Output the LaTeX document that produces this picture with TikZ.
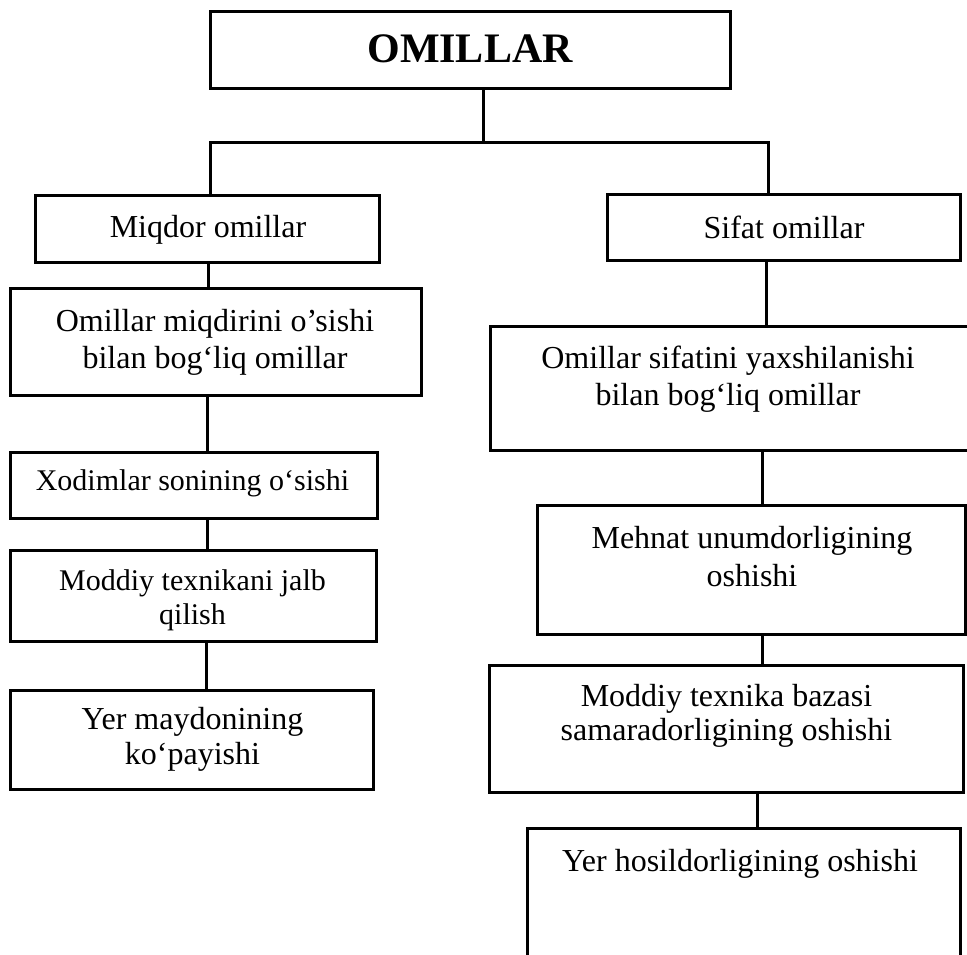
\documentclass[tikz,border=0pt]{standalone}
\usepackage{fontspec}
\setmainfont{Liberation Serif}
\newcommand{\twolines}[2]{\begin{tabular}[t]{@{}c@{}}#1\\#2\end{tabular}}
\begin{document}
\begin{tikzpicture}[x=1pt,y=-1pt,
  box/.style={draw, line width=3pt, rectangle, inner sep=0pt},
  conn/.style={line width=3pt},
  lbl/.style={anchor=base, inner sep=0pt, font=\fontsize{32}{37}\selectfont},
  lblsm/.style={anchor=base, inner sep=0pt, font=\fontsize{30}{34}\selectfont}]
\useasboundingbox (0,0) rectangle (967,955);
\clip (0,0) rectangle (967,955);
% boxes
\node[box, minimum width=520pt, minimum height=77pt] (top) at (470,50.5) {};
\node[box, minimum width=344pt, minimum height=66pt] (m1) at (207,229) {};
\node[box, minimum width=411pt, minimum height=107pt] (m2) at (215.5,341.5) {};
\node[box, minimum width=367pt, minimum height=66pt] (m3) at (193.5,485) {};
\node[box, minimum width=366pt, minimum height=91pt] (m4) at (193,595.5) {};
\node[box, minimum width=363pt, minimum height=99pt] (m5) at (191.5,739.5) {};
\node[box, minimum width=353pt, minimum height=65pt] (s1) at (783.5,227.5) {};
\node[box, minimum width=510pt, minimum height=124pt] (s2) at (745,388) {};
\node[box, minimum width=428pt, minimum height=129pt] (s3) at (751,569.5) {};
\node[box, minimum width=474pt, minimum height=127pt] (s4) at (726,728.5) {};
\node[box, minimum width=433pt, minimum height=172pt] (s5) at (743.5,914) {};
% texts
\node[anchor=base, inner sep=0pt, font=\fontsize{42}{48}\selectfont\bfseries] (ttop) at (470,63) {OMILLAR};
\node[lbl] (tm1) at (208,237) {Miqdor omillar};
\node[lbl] (tm2) at (215,331) {\twolines{Omillar miqdirini o’sishi}{bilan bog‘liq omillar}};
\node[lblsm] (tm3) at (192.5,490) {Xodimlar sonining o‘sishi};
\node[lblsm] (tm4) at (192.5,590) {\twolines{Moddiy texnikani jalb}{qilish}};
\node[lbl, font=\fontsize{32}{35}\selectfont] (tm5) at (192.5,729) {\twolines{Yer maydonining}{ko‘payishi}};
\node[lbl] (ts1) at (784,238) {Sifat omillar};
\node[lbl] (ts2) at (728,368) {\twolines{Omillar sifatini yaxshilanishi}{bilan bog‘liq omillar}};
\node[lbl, font=\fontsize{32}{38}\selectfont] (ts3) at (752,548) {\twolines{Mehnat unumdorligining}{oshishi}};
\node[lbl, font=\fontsize{32}{34}\selectfont] (ts4) at (726.5,706) {\twolines{Moddiy texnika bazasi}{samaradorligining oshishi}};
\node[lbl] (ts5) at (740,871) {Yer hosildorligining oshishi};
% connectors
\coordinate (busL) at (210,143);
\coordinate (busM) at (483,143);
\coordinate (busR) at (768,143);
\draw[conn] (top.south -| busM) -- (busM);
\draw[conn, line cap=rect] (busL) -- (busR);
\draw[conn] (busL) -- (m1.north -| busL);
\draw[conn] (busR) -- (s1.north -| busR);
\draw[conn] ([xshift=1pt]m1.south) -- ([xshift=1pt]m1.south |- m2.north);
\draw[conn] ([xshift=-8.5pt]m2.south) -- ([xshift=-8.5pt]m2.south |- m3.north);
\draw[conn] ([xshift=13.5pt]m3.south) -- ([xshift=13.5pt]m3.south |- m4.north);
\draw[conn] ([xshift=13pt]m4.south) -- ([xshift=13pt]m4.south |- m5.north);
\draw[conn] ([xshift=-17.5pt]s1.south) -- ([xshift=-17.5pt]s1.south |- s2.north);
\draw[conn] ([xshift=17pt]s2.south) -- ([xshift=17pt]s2.south |- s3.north);
\draw[conn] ([xshift=11pt]s3.south) -- ([xshift=11pt]s3.south |- s4.north);
\draw[conn] ([xshift=31pt]s4.south) -- ([xshift=31pt]s4.south |- s5.north);
\end{tikzpicture}
\end{document}
